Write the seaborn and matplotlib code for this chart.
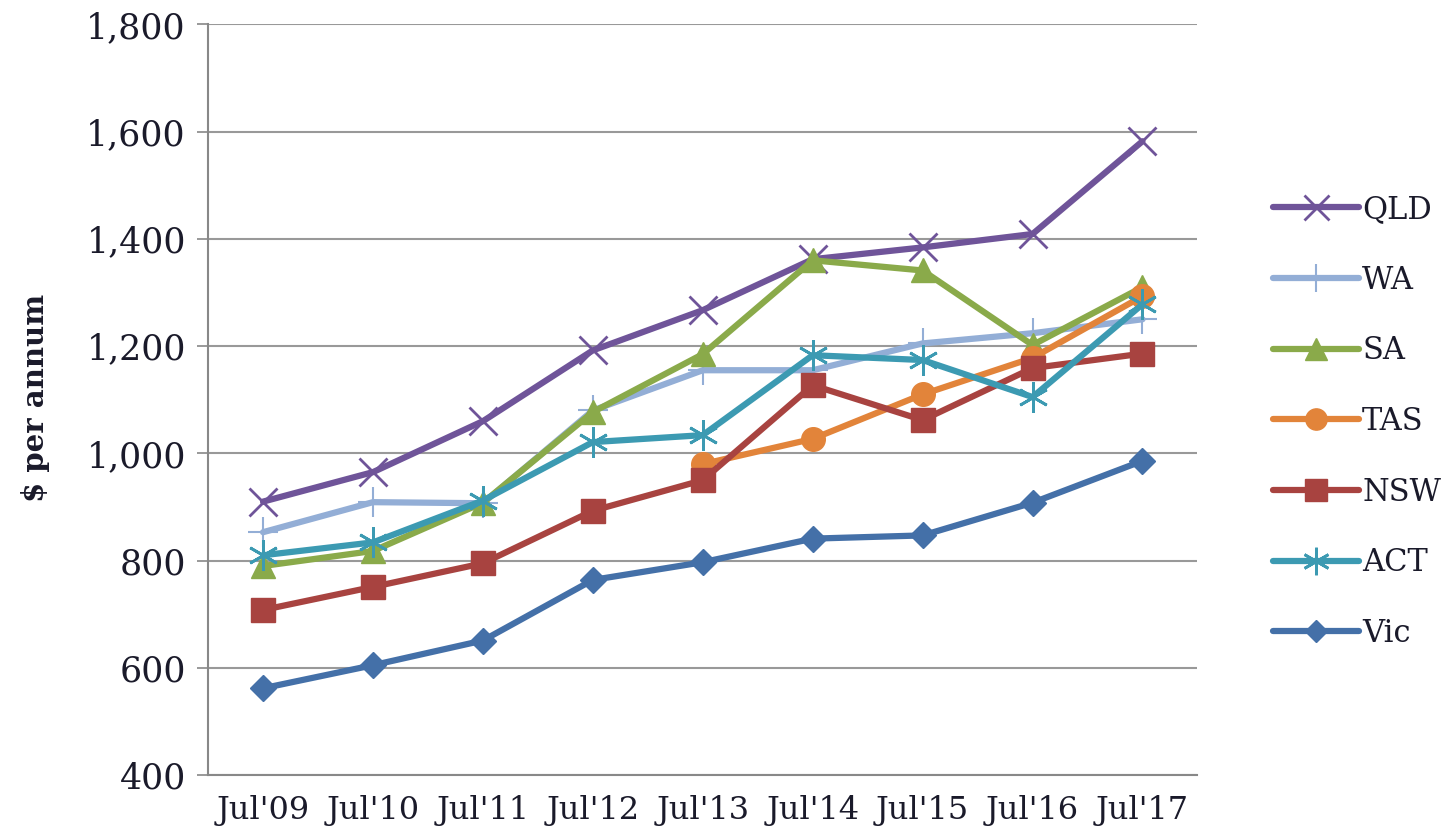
import pandas as pd
import matplotlib.pyplot as plt
import seaborn as sns

# Data
periods = ["Jul'09", "Jul'10", "Jul'11", "Jul'12", "Jul'13", "Jul'14", "Jul'15", "Jul'16", "Jul'17"]
qld = [910, 965, 1060, 1192, 1267, 1362, 1384, 1409, 1582]
wa = [853, 909, 907, 1080, 1155, 1155, 1205, 1224, 1250]
sa = [790, 818, 908, 1077, 1185, 1360, 1341, 1202, 1310]
tas = [None, None, None, None, 980, 1027, 1110, 1178, 1293]
nsw = [708, 751, 795, 893, 950, 1127, 1062, 1159, 1186]
act = [810, 834, 912, 1021, 1034, 1183, 1174, 1105, 1278]
vic = [562, 605, 651, 764, 797, 841, 847, 908, 986]

series = {'QLD': qld, 'WA': wa, 'SA': sa, 'TAS': tas, 'NSW': nsw, 'ACT': act, 'Vic': vic}
colors = {'QLD': '#6F5499', 'WA': '#93AED6', 'SA': '#8AAA4A', 'TAS': '#E2843A',
          'NSW': '#A84340', 'ACT': '#3C9AB2', 'Vic': '#4470A8'}
markers = {'QLD': 'x', 'WA': '+', 'SA': '^', 'TAS': 'o', 'NSW': 's', 'ACT': (6, 2, 0), 'Vic': 'D'}
msizes = {'QLD': 20, 'WA': 22, 'SA': 17, 'TAS': 17, 'NSW': 17, 'ACT': 22, 'Vic': 13}
mew = {'QLD': 2, 'WA': 1.5, 'SA': 1, 'TAS': 1, 'NSW': 1, 'ACT': 2, 'Vic': 1}

rows = []
for name, vals in series.items():
    for i, v in enumerate(vals):
        if v is not None:
            rows.append({'idx': i, 'value': v, 'state': name})
df = pd.DataFrame(rows)

sns.set_style("white")
plt.rcParams['font.family'] = ['DejaVu Serif']
text_color = '#1a1a2a'

fig = plt.figure(figsize=(14.55, 8.38), dpi=100)
ax = fig.add_axes([0.143, 0.075, 0.68, 0.896])

for name in series:
    sub = df[df['state'] == name]
    sns.lineplot(data=sub, x='idx', y='value', ax=ax, color=colors[name],
                 marker=markers[name], markersize=msizes[name],
                 markeredgecolor=colors[name], markeredgewidth=mew[name],
                 linewidth=4.5, label=name, solid_capstyle='round')

ax.set_xlim(-0.5, len(periods) - 0.5)
ax.set_ylim(400, 1800)
ax.set_yticks(range(400, 1801, 200))
ax.set_yticklabels([f'{v:,}' for v in range(400, 1801, 200)], fontsize=25, color=text_color)
ax.set_xticks(range(len(periods)))
ax.set_xticklabels(periods, fontsize=23, color=text_color)
ax.set_xticks([i - 0.5 for i in range(len(periods) + 1)], minor=True)
ax.tick_params(axis='x', which='major', length=0, pad=14)
ax.tick_params(axis='x', which='minor', length=10, width=1.2, color='#888888')
ax.tick_params(axis='y', which='major', length=8, width=1.2, color='#888888', pad=8, left=True)
ax.grid(axis='y', color='#999999', linewidth=1.5)
ax.set_axisbelow(True)
for side in ['top', 'right']:
    ax.spines[side].set_visible(False)
for side in ['left', 'bottom']:
    ax.spines[side].set_color('#888888')
    ax.spines[side].set_linewidth(1.5)

ax.set_xlabel('')
ax.set_ylabel('$ per annum', fontsize=21, fontweight='bold', color=text_color)
ax.yaxis.set_label_coords(-0.16, 0.502)

leg = ax.legend(loc='center left', bbox_to_anchor=(1.049, 0.471), frameon=False,
                fontsize=22, handlelength=2.8, labelspacing=1.3, handletextpad=0.1,
                markerscale=0.9)
for t in leg.get_texts():
    t.set_color(text_color)

plt.savefig('out.png', dpi=100)
